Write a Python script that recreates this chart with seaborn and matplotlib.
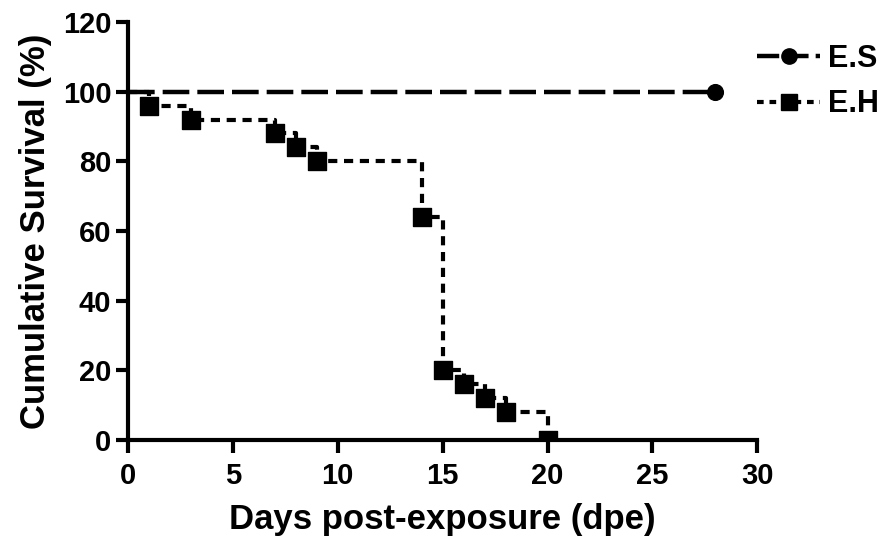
import numpy as np
import pandas as pd
import seaborn as sns
import matplotlib.pyplot as plt
from matplotlib.lines import Line2D

# survival data
es_days = [0, 28]
es_surv = [100, 100]
eh_days = [0, 1, 3, 7, 8, 9, 14, 15, 16, 17, 18, 20]
eh_surv = [100, 96, 92, 88, 84, 80, 64, 20, 16, 12, 8, 0]

sns.set_style("ticks")
plt.rcParams['font.family'] = ['Liberation Sans', 'DejaVu Sans']
plt.rcParams['font.weight'] = 'bold'
plt.rcParams['text.color'] = 'black'
plt.rcParams['axes.labelcolor'] = 'black'

fig = plt.figure(figsize=(8.92, 5.51), dpi=100)
ax = fig.add_axes([0.1435, 0.2015, 0.7055, 0.7585])

es = pd.DataFrame({'day': es_days, 'surv': es_surv})
eh = pd.DataFrame({'day': eh_days, 'surv': eh_surv})

es_dash = (6, 1.8)
eh_dash = (2.2, 1.6)

sns.lineplot(data=eh, x='day', y='surv', drawstyle='steps-post', color='black',
             lw=3, ax=ax, linestyle=(0, eh_dash))
sns.lineplot(data=es, x='day', y='surv', color='black', lw=3.2, ax=ax,
             linestyle=(0, es_dash))
sns.scatterplot(data=eh.iloc[1:], x='day', y='surv', marker='s', s=150,
                color='black', edgecolor='black', ax=ax, zorder=5)
sns.scatterplot(data=es.iloc[1:], x='day', y='surv', marker='o', s=130,
                color='black', edgecolor='black', ax=ax, zorder=5)

ax.set_xlim(0, 30)
ax.set_ylim(0, 120)
ax.set_xticks([0, 5, 10, 15, 20, 25, 30])
ax.set_yticks([0, 20, 40, 60, 80, 100, 120])
sns.despine(ax=ax)
for s in ['left', 'bottom']:
    ax.spines[s].set_linewidth(3)
    ax.spines[s].set_color('black')
ax.tick_params(width=3, length=9, labelsize=21, colors='black', pad=3)
ax.tick_params(axis='x', pad=7)
for lab in ax.get_xticklabels() + ax.get_yticklabels():
    lab.set_fontweight('bold')
ax.set_xlabel('Days post-exposure (dpe)', fontsize=25, fontweight='bold', labelpad=9)
ax.set_ylabel('Cumulative Survival (%)', fontsize=25, fontweight='bold', labelpad=8)

# legend handles with shorter dashes so the gaps show
handles = [
    Line2D([], [], color='black', lw=3.2, linestyle=(0, (5, 1.6)), marker='o', markersize=11),
    Line2D([], [], color='black', lw=3, linestyle=(0, (1.6, 1.4)), marker='s', markersize=11),
]
ax.legend(handles, ['E.S', 'E.H'], loc='upper left', bbox_to_anchor=(1.0, 0.947),
          frameon=False, handlelength=2.05, handletextpad=0.26, labelspacing=0.5,
          borderpad=0, borderaxespad=0, prop={'weight': 'bold', 'size': 22})

fig.savefig('out.png', dpi=100)
